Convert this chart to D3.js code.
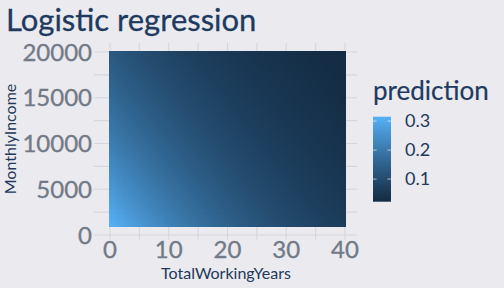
<!DOCTYPE html>
<html><head><meta charset="utf-8">
<script src="https://cdn.jsdelivr.net/npm/d3@7"></script>
<style>html,body{margin:0;padding:0;background:#EBEBEF;}svg{display:block;}</style>
</head><body>
<script>
// Fitted logistic-regression coefficients (estimated from the picture's colours)
const coefIntercept = -0.717;
const coefYears = -0.0474;
const coefIncome = -0.000059;
// Prediction grid axes
const yearsGrid = d3.range(0, 101).map(i => i * 0.4);              // 0 .. 40
const incomeGrid = d3.range(0, 101).map(i => 1009 + i * 189.9);   // 1009 .. 19999
const xTicks = [0, 10, 20, 30, 40];
const yTicks = [0, 5000, 10000, 15000, 20000];
const legendTicks = [0.1, 0.2, 0.3];

const W = 504, H = 288;
const svg = d3.select("body").append("svg").attr("width", W).attr("height", H);
const font = "Lato, 'Open Sans', sans-serif";
svg.append("rect").attr("width", W).attr("height", H).attr("fill", "#EBEBEF");

const x = d3.scaleLinear().domain([0, 40]).range([110, 345]);
const y = d3.scaleLinear().domain([0, 20000]).range([235, 52]);

// grid lines
const gridCol = "#D5D7DC";
const xMinor = [5, 15, 25, 35], yMinor = [2500, 7500, 12500, 17500];
const g = svg.append("g");
g.selectAll(".vx").data(xTicks.concat(xMinor)).join("line")
  .attr("x1", d => x(d)).attr("x2", d => x(d)).attr("y1", 43).attr("y2", 240)
  .attr("stroke", gridCol).attr("stroke-width", 1.1);
g.selectAll(".hy").data(yTicks.concat(yMinor)).join("line")
  .attr("y1", d => y(d)).attr("y2", d => y(d)).attr("x1", 94).attr("x2", 357)
  .attr("stroke", gridCol).attr("stroke-width", 1.1);

// predictions
const cells = [];
yearsGrid.forEach(a => incomeGrid.forEach(b => {
  const lp = coefIntercept + coefYears * a + coefIncome * b;
  cells.push({a, b, p: 1 / (1 + Math.exp(-lp))});
}));
const ext = d3.extent(cells, d => d.p);
const color = d3.scaleSequential(d3.interpolateLab("#132B43", "#56B1F7")).domain(ext);
const dx = yearsGrid[1] - yearsGrid[0], dy = incomeGrid[1] - incomeGrid[0];
const tw = x(dx) - x(0), th = y(0) - y(dy);
const x1 = x(yearsGrid[yearsGrid.length - 1]) + tw / 2;
const y1 = y(incomeGrid[0]) + th / 2;
svg.append("g").attr("shape-rendering", "crispEdges").selectAll("rect").data(cells).join("rect")
  .attr("x", d => x(d.a) - tw / 2).attr("y", d => y(d.b) - th / 2)
  .attr("width", d => Math.min(tw + 1, x1 - (x(d.a) - tw / 2)))
  .attr("height", d => Math.min(th + 1, y1 - (y(d.b) - th / 2)))
  .attr("fill", d => color(d.p));

// tick labels
const tickStyle = sel => sel.attr("font-family", font).attr("font-size", 24).attr("fill", "#737A87")
  .attr("stroke", "#737A87").attr("stroke-width", 0.35);
svg.append("g").selectAll("text").data(xTicks).join("text")
  .attr("x", d => x(d)).attr("y", 258).attr("text-anchor", "middle").call(tickStyle).text(d => d);
svg.append("g").selectAll("text").data(yTicks).join("text")
  .attr("x", 92).attr("y", d => y(d) + 8.5).attr("text-anchor", "end").call(tickStyle).text(d => d);

// axis titles
svg.append("text").attr("x", 226).attr("y", 279).attr("text-anchor", "middle")
  .attr("font-family", font).attr("font-size", 16).attr("fill", "#22385A").text("TotalWorkingYears");
svg.append("text").attr("transform", "translate(16,139) rotate(-90)").attr("text-anchor", "middle")
  .attr("font-family", font).attr("font-size", 16).attr("fill", "#22385A").text("MonthlyIncome");

// title
svg.append("text").attr("x", 6).attr("y", 30.5).attr("font-family", font).attr("font-size", 31)
  .attr("fill", "#1E3A5F").attr("stroke", "#1E3A5F").attr("stroke-width", 0.3).text("Logistic regression");

// legend
const lgTop = 116.7, lgBot = 201.7, lgX = 373, lgW = 18;
const ly = d3.scaleLinear().domain(ext).range([lgBot, lgTop]);
const defs = svg.append("defs");
const grad = defs.append("linearGradient").attr("id", "lg").attr("x1", 0).attr("x2", 0).attr("y1", 1).attr("y2", 0);
d3.range(0, 21).forEach(i => grad.append("stop").attr("offset", i / 20)
  .attr("stop-color", color(ext[0] + (ext[1] - ext[0]) * i / 20)));
svg.append("rect").attr("x", lgX).attr("y", lgTop).attr("width", lgW).attr("height", lgBot - lgTop)
  .attr("fill", "url(#lg)");
const lt = svg.append("g");
legendTicks.forEach(v => {
  lt.append("line").attr("x1", lgX).attr("x2", lgX + 3.6).attr("y1", ly(v)).attr("y2", ly(v))
    .attr("stroke", "white").attr("stroke-opacity", 0.6);
  lt.append("line").attr("x1", lgX + lgW - 3.6).attr("x2", lgX + lgW).attr("y1", ly(v)).attr("y2", ly(v))
    .attr("stroke", "white").attr("stroke-opacity", 0.6);
  lt.append("text").attr("x", 405).attr("y", ly(v) + 6).attr("font-family", font).attr("font-size", 18)
    .attr("fill", "#22385A").text(v.toFixed(1));
});
svg.append("text").attr("x", 373).attr("y", 100).attr("font-family", font).attr("font-size", 26)
  .attr("fill", "#1E3A5F").attr("stroke", "#1E3A5F").attr("stroke-width", 0.2).text("prediction");
</script>
</body></html>
